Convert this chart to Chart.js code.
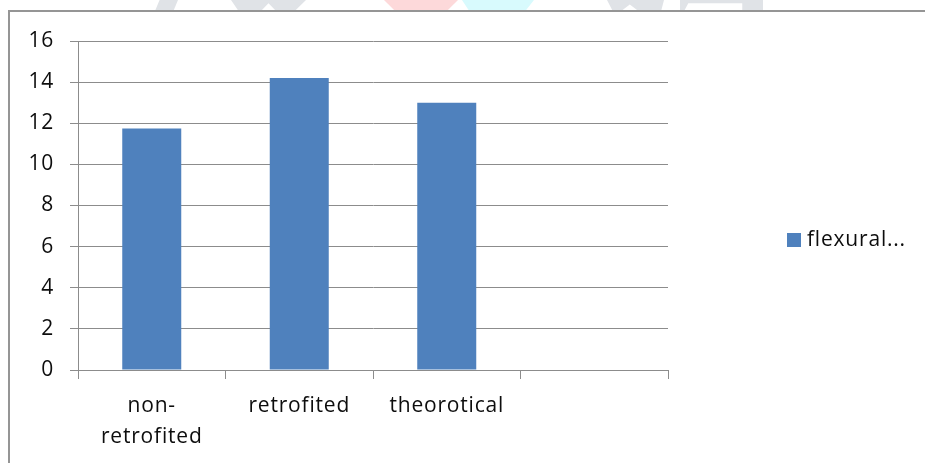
<!DOCTYPE html>
<html>
<head>
<meta charset="utf-8">
<script src="https://cdn.jsdelivr.net/npm/chart.js@4"></script>
<style>
  html, body { margin: 0; padding: 0; background: #fff; overflow: hidden; }
  #wrap { position: relative; width: 925px; height: 463px; }
  .wm { position: absolute; top: 0; height: 11px; }
  #frame {
    position: absolute; left: 8px; top: 10px; width: 940px; height: 480px;
    border-left: 2px solid #959595; border-top: 2px solid #959595;
  }
  canvas { position: absolute; left: 0; top: 0; }
</style>
</head>
<body>
<div id="wrap">
  <!-- faint letter shapes peeking above the frame -->
  <div class="wm" style="left:155px;width:23px;background:#e0e3e7;clip-path:polygon(20% 0,100% 0,80% 100%,0 100%);"></div>
  <div class="wm" style="left:231px;width:75px;background:#e0e3e7;clip-path:polygon(0 0,100% 0,85% 100%,60% 100%,50% 30%,40% 100%,10% 100%);"></div>
  <div class="wm" style="left:384px;width:74px;background:#fdd9da;clip-path:polygon(0 0,100% 0,85% 100%,15% 100%);"></div>
  <div class="wm" style="left:462px;width:72px;background:#d8fafd;clip-path:polygon(0 0,100% 0,88% 100%,10% 100%);"></div>
  <div class="wm" style="left:607px;width:57px;background:#e0e3e7;clip-path:polygon(0 0,100% 0,95% 100%,55% 100%,40% 40%,25% 100%,10% 100%);"></div>
  <div class="wm" style="left:680px;width:83px;background:#e0e3e7;clip-path:polygon(0 0,100% 0,100% 100%,75% 100%,75% 30%,10% 30%,5% 100%,0 100%);"></div>
  <div id="frame"></div>
  <canvas id="c" width="925" height="463"></canvas>
</div>
<script>
// Flexural results per specimen group
const categories = [['non-', 'retrofited'], 'retrofited', 'theorotical', ''];
const flexural = [11.75, 14.2, 13.0, null];
const seriesLabel = 'flexural...';
const yTicks = { min: 0, max: 16, step: 2 };

const BAR_BLUE = '#4F81BD';
const GRID = '#8c8c8c';
const TEXT = '#0d0d0d';
const FONT = 'Open Sans';
const FONT_SIZE = 21;

// letter spacing for all canvas text
const spacing = {
  id: 'spacing',
  beforeDraw(chart) { chart.ctx.letterSpacing = '0.8px'; }
};

// legend entry to the right of the plot
const sideLegend = {
  id: 'sideLegend',
  afterDraw(chart) {
    const ctx = chart.ctx;
    const ds = chart.data.datasets[0];
    ctx.save();
    ctx.fillStyle = ds.backgroundColor;
    ctx.fillRect(787, 233, 14, 14);
    ctx.fillStyle = TEXT;
    ctx.font = FONT_SIZE + 'px "' + FONT + '"';
    ctx.textBaseline = 'middle';
    ctx.textAlign = 'left';
    ctx.fillText(ds.label, 807, 240);
    ctx.restore();
  }
};

new Chart(document.getElementById('c'), {
  type: 'bar',
  data: {
    labels: categories,
    datasets: [{
      label: seriesLabel,
      data: flexural,
      backgroundColor: BAR_BLUE,
      borderWidth: 0,
      categoryPercentage: 1.0,
      barPercentage: 0.4
    }]
  },
  options: {
    responsive: false,
    animation: false,
    devicePixelRatio: 1,
    layout: { padding: { left: 0, top: 41, right: 257, bottom: 0 } },
    plugins: {
      legend: { display: false },
      tooltip: { enabled: false }
    },
    scales: {
      x: {
        offset: true,
        grid: { display: true, drawOnChartArea: false, drawTicks: true, tickLength: 9, color: GRID, offset: true },
        border: { display: true, color: GRID, width: 1 },
        ticks: {
          color: TEXT, padding: 11, maxRotation: 0, autoSkip: false,
          font: { family: FONT, size: FONT_SIZE, lineHeight: 1.5 }
        },
        afterFit(scale) { scale.height = 93; }
      },
      y: {
        min: yTicks.min, max: yTicks.max,
        grid: { color: GRID, tickLength: 8, drawTicks: true },
        border: { display: true, color: GRID, width: 1 },
        ticks: {
          stepSize: yTicks.step, color: TEXT, padding: 16,
          font: { family: FONT, size: FONT_SIZE }
        },
        afterFit(scale) { scale.width = 78; }
      }
    }
  },
  plugins: [spacing, sideLegend]
});
</script>
</body>
</html>
